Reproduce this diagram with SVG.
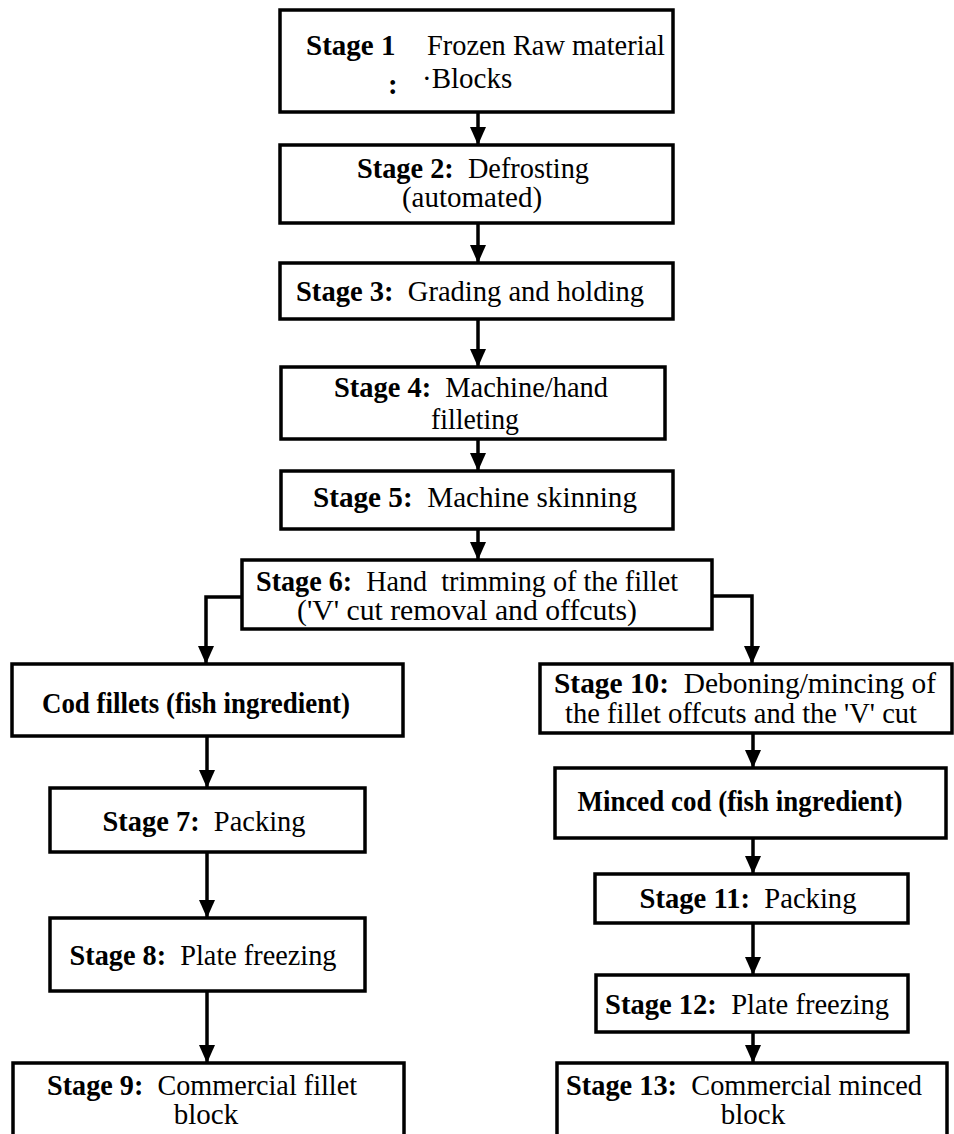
<svg xmlns="http://www.w3.org/2000/svg" width="954" height="1134" viewBox="0 0 954 1134">
<style>
.box{fill:#fff;stroke:#000;stroke-width:3.5}
.t{font-family:"Liberation Serif","Times New Roman",serif;font-size:29px;fill:#000;white-space:pre}
.c{text-anchor:middle}
.b{font-weight:bold}
.conn{fill:none;stroke:#000;stroke-width:3.5;marker-end:url(#ah)}
</style>
<defs>
<marker id="ah" markerUnits="userSpaceOnUse" markerWidth="18" markerHeight="16" refX="18" refY="8" orient="auto">
<path d="M0,0 L18,8 L0,16 z" fill="#000"/>
</marker>
</defs>
<rect width="954" height="1134" fill="#fff"/>
<g id="connectors">
<line class="conn" x1="478" y1="112" x2="478" y2="145"/>
<line class="conn" x1="478" y1="223" x2="478" y2="263"/>
<line class="conn" x1="478" y1="319" x2="478" y2="367"/>
<line class="conn" x1="478" y1="439" x2="478" y2="471"/>
<line class="conn" x1="478" y1="529" x2="478" y2="560"/>
<polyline class="conn" points="242,597 206,597 206,664"/>
<polyline class="conn" points="712,596 752,596 752,664"/>
<line class="conn" x1="207" y1="736" x2="207" y2="788"/>
<line class="conn" x1="207" y1="852" x2="207" y2="918"/>
<line class="conn" x1="207" y1="991" x2="207" y2="1063"/>
<line class="conn" x1="753" y1="733" x2="753" y2="768"/>
<line class="conn" x1="753" y1="838" x2="753" y2="874"/>
<line class="conn" x1="753" y1="923" x2="753" y2="975"/>
<line class="conn" x1="753" y1="1032" x2="753" y2="1063"/>
</g>
<g id="stage1">
<rect class="box" x="280" y="10" width="393" height="102"/>
<text class="t b" x="306" y="55">Stage 1</text>
<text class="t" x="427" y="55" textLength="238" lengthAdjust="spacingAndGlyphs">Frozen Raw material</text>
<text class="t b" x="388" y="94">:</text>
<text class="t" x="422" y="88">·Blocks</text>
</g>
<g id="stage2">
<rect class="box" x="280" y="145" width="393" height="78"/>
<text class="t c" x="473" y="178" textLength="232" lengthAdjust="spacingAndGlyphs"><tspan class="b">Stage 2:</tspan>  Defrosting</text>
<text class="t c" x="472" y="207">(automated)</text>
</g>
<g id="stage3">
<rect class="box" x="280" y="263" width="393" height="56"/>
<text class="t c" x="470" y="301" textLength="348" lengthAdjust="spacingAndGlyphs"><tspan class="b">Stage 3:</tspan>  Grading and holding</text>
</g>
<g id="stage4">
<rect class="box" x="281" y="367" width="384" height="72"/>
<text class="t c" x="471" y="397" textLength="274" lengthAdjust="spacingAndGlyphs"><tspan class="b">Stage 4:</tspan>  Machine/hand</text>
<text class="t c" x="475" y="429" textLength="88" lengthAdjust="spacingAndGlyphs">filleting</text>
</g>
<g id="stage5">
<rect class="box" x="281" y="471" width="392" height="58"/>
<text class="t c" x="475" y="507" textLength="324" lengthAdjust="spacingAndGlyphs"><tspan class="b">Stage 5:</tspan>  Machine skinning</text>
</g>
<g id="stage6">
<rect class="box" x="242" y="560" width="470" height="69"/>
<text class="t c" x="467" y="591" textLength="422" lengthAdjust="spacingAndGlyphs"><tspan class="b">Stage 6:</tspan>  Hand  trimming of the fillet</text>
<text class="t c" x="467" y="620" textLength="340" lengthAdjust="spacingAndGlyphs">('V' cut removal and offcuts)</text>
</g>
<g id="codfillets">
<rect class="box" x="12" y="664" width="391" height="72"/>
<text class="t c b" x="196" y="713" textLength="308" lengthAdjust="spacingAndGlyphs">Cod fillets (fish ingredient)</text>
</g>
<g id="stage7">
<rect class="box" x="50" y="788" width="315" height="64"/>
<text class="t c" x="204" y="831" textLength="203" lengthAdjust="spacingAndGlyphs"><tspan class="b">Stage 7:</tspan>  Packing</text>
</g>
<g id="stage8">
<rect class="box" x="50" y="918" width="315" height="73"/>
<text class="t c" x="203" y="965" textLength="267" lengthAdjust="spacingAndGlyphs"><tspan class="b">Stage 8:</tspan>  Plate freezing</text>
</g>
<g id="stage9">
<rect class="box" x="13" y="1063" width="391" height="80"/>
<text class="t c" x="202" y="1095" textLength="310" lengthAdjust="spacingAndGlyphs"><tspan class="b">Stage 9:</tspan>  Commercial fillet</text>
<text class="t c" x="206" y="1124">block</text>
</g>
<g id="stage10">
<rect class="box" x="540" y="664" width="412" height="69"/>
<text class="t c" x="745" y="693" textLength="382" lengthAdjust="spacingAndGlyphs"><tspan class="b">Stage 10:</tspan>  Deboning/mincing of</text>
<text class="t c" x="741" y="723" textLength="352" lengthAdjust="spacingAndGlyphs">the fillet offcuts and the 'V' cut</text>
</g>
<g id="mincedcod">
<rect class="box" x="555" y="768" width="391" height="70"/>
<text class="t c b" x="740" y="811" textLength="325" lengthAdjust="spacingAndGlyphs">Minced cod (fish ingredient)</text>
</g>
<g id="stage11">
<rect class="box" x="595" y="874" width="313" height="49"/>
<text class="t c" x="748" y="908" textLength="217" lengthAdjust="spacingAndGlyphs"><tspan class="b">Stage 11:</tspan>  Packing</text>
</g>
<g id="stage12">
<rect class="box" x="596" y="975" width="312" height="57"/>
<text class="t c" x="747" y="1014" textLength="284" lengthAdjust="spacingAndGlyphs"><tspan class="b">Stage 12:</tspan>  Plate freezing</text>
</g>
<g id="stage13">
<rect class="box" x="557" y="1063" width="390" height="80"/>
<text class="t c" x="744" y="1095" textLength="356" lengthAdjust="spacingAndGlyphs"><tspan class="b">Stage 13:</tspan>  Commercial minced</text>
<text class="t c" x="753" y="1124">block</text>
</g>
</svg>
